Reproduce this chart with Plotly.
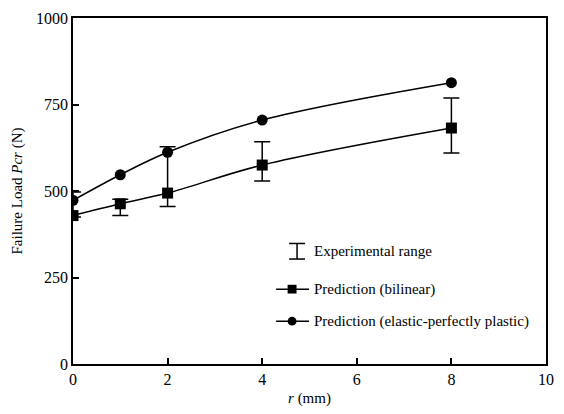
import plotly.graph_objects as go

r_mm = [0, 1, 2, 4, 8]
bilinear = [429, 463, 494, 575, 682]
elastic_pp = [473, 547, 612, 705, 813]
exp_low = [425, 429, 455, 529, 610]
exp_high = [497, 476, 628, 642, 769]

x_ticks = [0, 2, 4, 6, 8, 10]
y_ticks = [0, 250, 500, 750, 1000]

exp_mid = [(a + b) / 2 for a, b in zip(exp_low, exp_high)]
exp_half = [(b - a) / 2 for a, b in zip(exp_low, exp_high)]

FONT = "Times New Roman, Liberation Serif, DejaVu Serif, serif"

fig = go.Figure()
fig.add_trace(go.Scatter(
    x=r_mm, y=exp_mid, mode="markers",
    marker=dict(size=1, opacity=0, color="black"),
    error_y=dict(type="data", array=exp_half, visible=True, color="black", thickness=1.5, width=8),
    showlegend=False, hoverinfo="skip"))
fig.add_trace(go.Scatter(
    x=r_mm, y=bilinear, mode="lines+markers",
    line=dict(color="black", width=1.5, shape="spline", smoothing=1),
    marker=dict(symbol="square", size=11, color="black"),
    showlegend=False))
fig.add_trace(go.Scatter(
    x=r_mm, y=elastic_pp, mode="lines+markers",
    line=dict(color="black", width=1.5, shape="spline", smoothing=1),
    marker=dict(symbol="circle", size=11, color="black"),
    showlegend=False))

# manual legend (paper coordinates)
def px(xp):
    return (xp - 73) / 475

def py(yp):
    return (366 - yp) / 356

shapes = []
line_style = dict(color="black", width=1.5)
# Experimental range glyph
shapes.append(dict(type="line", xref="paper", yref="paper", x0=px(298), x1=px(298), y0=py(242), y1=py(258), line=line_style))
shapes.append(dict(type="line", xref="paper", yref="paper", x0=px(290), x1=px(306), y0=py(242), y1=py(242), line=line_style))
shapes.append(dict(type="line", xref="paper", yref="paper", x0=px(290), x1=px(306), y0=py(258), y1=py(258), line=line_style))
# bilinear glyph
shapes.append(dict(type="line", xref="paper", yref="paper", x0=px(277), x1=px(310), y0=py(289), y1=py(289), line=line_style))
shapes.append(dict(type="rect", xref="paper", yref="paper", x0=px(288.5), x1=px(297.5), y0=py(284.5), y1=py(293.5),
                   fillcolor="black", line=dict(width=0)))
# elastic glyph
shapes.append(dict(type="line", xref="paper", yref="paper", x0=px(277), x1=px(310), y0=py(322), y1=py(322), line=line_style))
shapes.append(dict(type="circle", xref="paper", yref="paper", x0=px(288.5), x1=px(297.5), y0=py(317.5), y1=py(326.5),
                   fillcolor="black", line=dict(width=0)))

annotations = []
for text, yp in [("Experimental range", 250), ("Prediction (bilinear)", 289),
                 ("Prediction (elastic-perfectly plastic)", 322)]:
    annotations.append(dict(xref="paper", yref="paper", x=px(313), y=py(yp), text=text,
                            showarrow=False, xanchor="left", yanchor="middle",
                            font=dict(family=FONT, size=15, color="black")))

fig.update_layout(
    width=564, height=414,
    margin=dict(l=73, r=16, t=10, b=48),
    paper_bgcolor="white", plot_bgcolor="white",
    font=dict(family=FONT, size=16, color="black"),
    shapes=shapes, annotations=annotations,
    xaxis=dict(range=[0, 10], tickvals=x_ticks, ticks="inside", ticklen=6, tickwidth=1.5,
               tickcolor="black", showline=True, linecolor="black", linewidth=1.5, mirror=True,
               showgrid=False, zeroline=False,
               title=dict(text="<i>r</i> (mm)", font=dict(family=FONT, size=15), standoff=6)),
    yaxis=dict(range=[0, 1000], tickvals=y_ticks, ticks="inside", ticklen=6, tickwidth=1.5,
               tickcolor="black", showline=True, linecolor="black", linewidth=1.5, mirror=True,
               showgrid=False, zeroline=False,
               title=dict(text="Failure Load <i>Pcr</i> (N)", font=dict(family=FONT, size=15), standoff=10)),
)

fig.write_html("out.html")
